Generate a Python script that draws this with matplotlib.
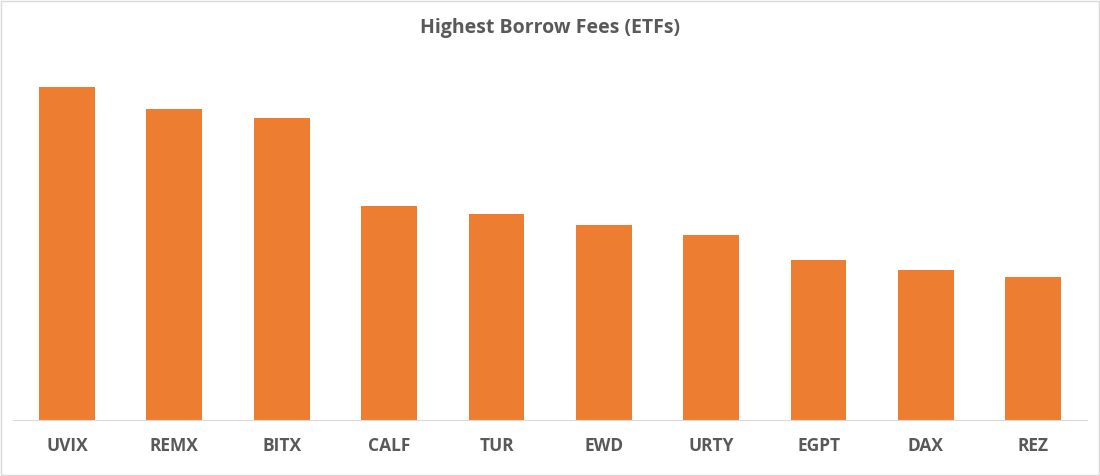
import matplotlib
matplotlib.use("Agg")
import matplotlib.pyplot as plt
from matplotlib.patches import Rectangle

tickers = ["UVIX", "REMX", "BITX", "CALF", "TUR", "EWD", "URTY", "EGPT", "DAX", "REZ"]
fees = [333, 311, 302, 214, 206, 195, 185, 160, 150, 143]

fig = plt.figure(figsize=(11, 4.76), dpi=100)
ax = fig.add_axes([13.3/1100, 1-420/476, (1087-13.3)/1100, 360/476])
ax.bar(range(len(tickers)), fees, width=0.52, color="#ED7D31")
ax.set_xlim(-0.5, len(tickers)-0.5)
ax.set_ylim(0, 360)
ax.set_yticks([])
ax.set_xticks(range(len(tickers)))
ax.set_xticklabels(tickers, fontsize=12.5, fontweight="bold", color="#595959", family="Open Sans")
ax.tick_params(axis="x", length=0, pad=12)
for s in ["top", "right", "left"]:
    ax.spines[s].set_visible(False)
ax.spines["bottom"].set_color("#D9D9D9")
fig.text(0.5, 1-28/476, "Highest Borrow Fees (ETFs)", ha="center", va="center",
         fontsize=14, fontweight="bold", color="#595959", family="Open Sans")
fig.patches.append(Rectangle((0.001, 0.002), 0.998, 0.996, transform=fig.transFigure,
                             fill=False, edgecolor="#D9D9D9", linewidth=1))
fig.savefig("out.png", dpi=100)
